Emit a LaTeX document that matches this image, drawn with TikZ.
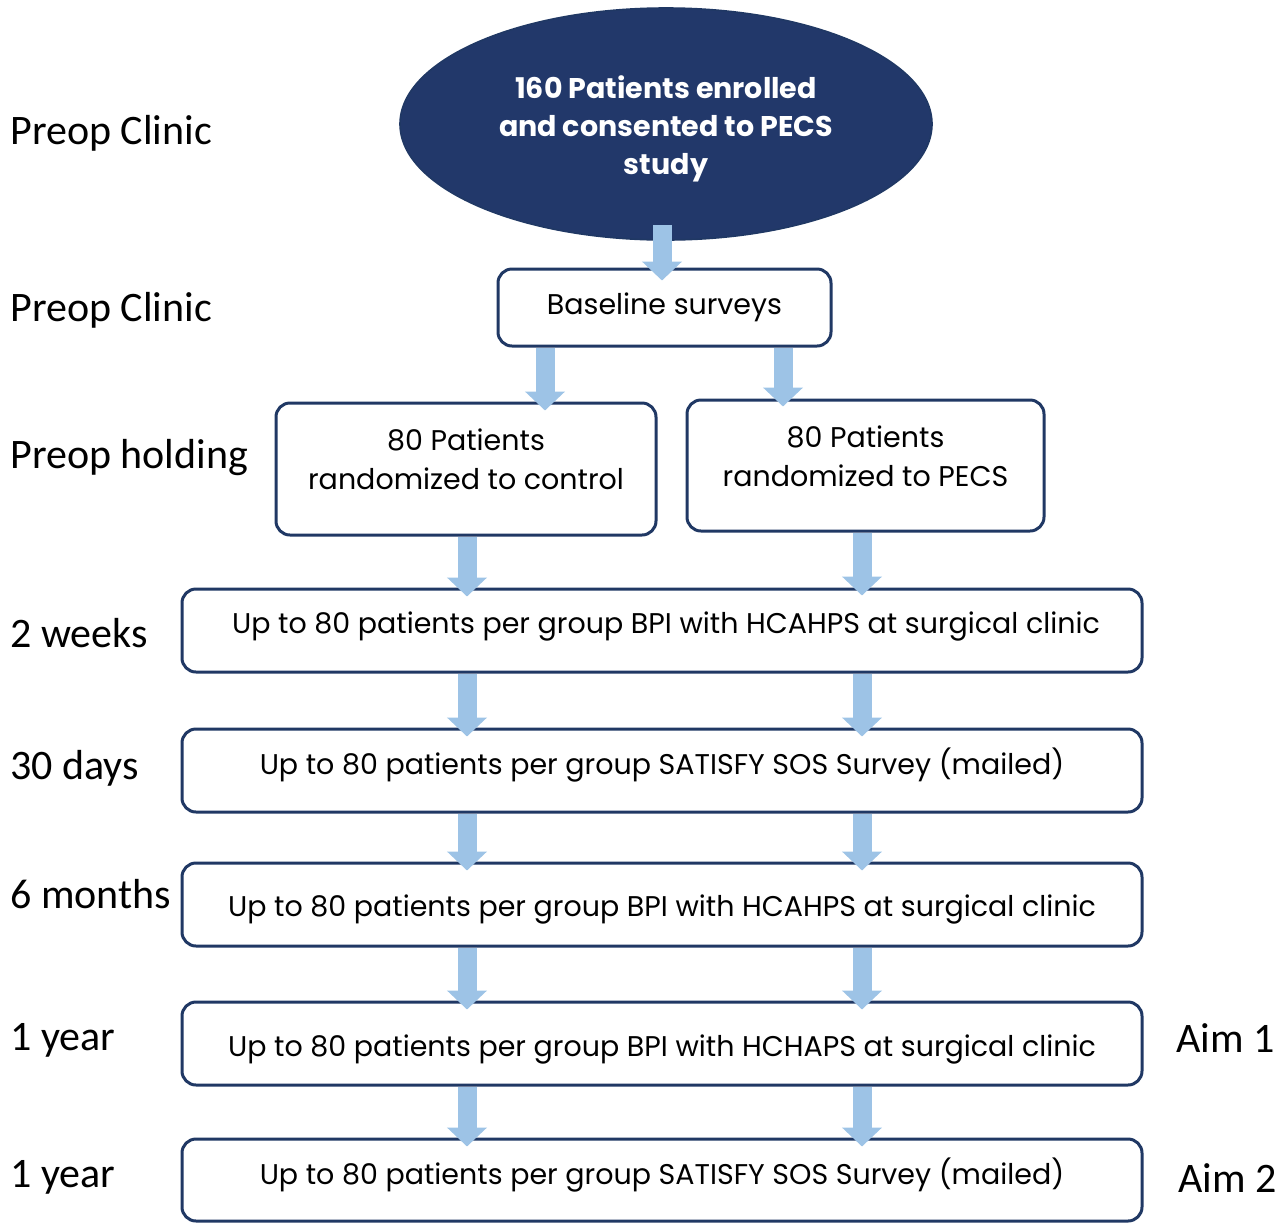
\documentclass[tikz,border=0pt]{standalone}
\usepackage{fontspec}
\setmainfont{Poppins}
\newfontfamily\calfont{Carlito}
\usetikzlibrary{shapes.geometric,arrows.meta}
\definecolor{navy}{HTML}{203864}
\definecolor{ellfill}{HTML}{22386A}
\definecolor{arrowblue}{HTML}{9DC3E6}
\begin{document}
\begin{tikzpicture}[x=0.5pt,y=-0.5pt,
 box/.style={draw=navy,line width=1.5pt,rounded corners=7pt,fill=white,inner sep=0,shape=rectangle},
 btxt/.style={font=\fontsize{14.25pt}{19pt}\selectfont,inner sep=0,anchor=base},
 etxt/.style={font=\bfseries\fontsize{14.25pt}{19pt}\selectfont,text=white,inner sep=0,anchor=base},
 side/.style={font=\calfont\fontsize{21pt}{25pt}\selectfont,anchor=base west,inner sep=0},
 barrow/.style={draw=arrowblue,line width=9.5pt,-{Triangle[width=19.5pt,length=9.5pt]}}]
\useasboundingbox (0,0) rectangle (1286,1222);
% columns for arrows
\coordinate (L) at (467,0);
\coordinate (R) at (862,0);
\coordinate (M) at (662,0);
\coordinate (BL) at (545,0);
\coordinate (BR) at (783,0);
% shapes
\node[ellipse,fill=ellfill,draw=navy,line width=0.8pt,minimum width=266pt,minimum height=116pt,inner sep=0] (ell) at (666,124) {};
\node[box,minimum width=166.5pt,minimum height=38.5pt] (base) at (664.5,307.5) {};
\node[box,minimum width=190pt,minimum height=66pt] (ctl) at (466,469) {};
\node[box,minimum width=178.5pt,minimum height=65.5pt] (pecs) at (865.5,465.5) {};
\node[box,minimum width=480pt,minimum height=41.5pt] (r1) at (662,630.5) {};
\node[box,minimum width=480pt,minimum height=41.5pt] (r2) at (662,770.5) {};
\node[box,minimum width=480pt,minimum height=41.5pt] (r3) at (662,904.5) {};
\node[box,minimum width=480pt,minimum height=41.5pt] (r4) at (662,1043.5) {};
\node[box,minimum width=480pt,minimum height=41pt] (r5) at (662,1180) {};
% texts
\node[etxt] (e1) at (666,98) {160 Patients enrolled};
\node[etxt] (e2) at (666,136) {and consented to PECS};
\node[etxt] (e3) at (666,174) {study};
\node[btxt] (tbase) at (664.5,314) {Baseline surveys};
\node[btxt] (tc1) at (466,450) {80 Patients};
\node[btxt] (tc2) at (466,489) {randomized to control};
\node[btxt] (tp1) at (865.5,447) {80 Patients};
\node[btxt] (tp2) at (865.5,486) {randomized to PECS};
\node[btxt] (t1) at (666,633) {Up to 80 patients per group BPI with HCAHPS at surgical clinic};
\node[btxt] (t2) at (662,774) {Up to 80 patients per group SATISFY SOS Survey (mailed)};
\node[btxt] (t3) at (662,916) {Up to 80 patients per group BPI with HCAHPS at surgical clinic};
\node[btxt] (t4) at (662,1056) {Up to 80 patients per group BPI with HCHAPS at surgical clinic};
\node[btxt] (t5) at (662,1184) {Up to 80 patients per group SATISFY SOS Survey (mailed)};
% side labels
\node[side] (s1) at (10,144) {Preop Clinic};
\node[side] (s2) at (10,321) {Preop Clinic};
\node[side] (s3) at (10,468) {Preop holding};
\node[side] (s4) at (10,647) {2 weeks};
\node[side] (s5) at (10,779) {30 days};
\node[side] (s6) at (10,908) {6 months};
\node[side] (s7) at (10,1050) {1 year};
\node[side] (s8) at (10,1187) {1 year};
\node[side] (a1) at (1176,1052) {Aim 1};
\node[side] (a2) at (1178,1192) {Aim 2};
% arrows
\draw[barrow,shorten <=-8pt,shorten >=-6.5pt] (ell.south -| M) -- (base.north -| M);
\draw[barrow,shorten >=-4.5pt] (base.south -| BL) -- (ctl.north -| BL);
\draw[barrow,shorten >=-4pt] (base.south -| BR) -- (pecs.north -| BR);
\draw[barrow,shorten >=-4.5pt] (ctl.south -| L) -- (r1.north -| L);
\draw[barrow,shorten >=-4pt] (pecs.south -| R) -- (r1.north -| R);
\foreach \a/\b in {r1/r2,r2/r3,r3/r4,r4/r5}{
  \draw[barrow,shorten >=-4.5pt] (\a.south -| L) -- (\b.north -| L);
  \draw[barrow,shorten >=-4.5pt] (\a.south -| R) -- (\b.north -| R);
}
\end{tikzpicture}
\end{document}
